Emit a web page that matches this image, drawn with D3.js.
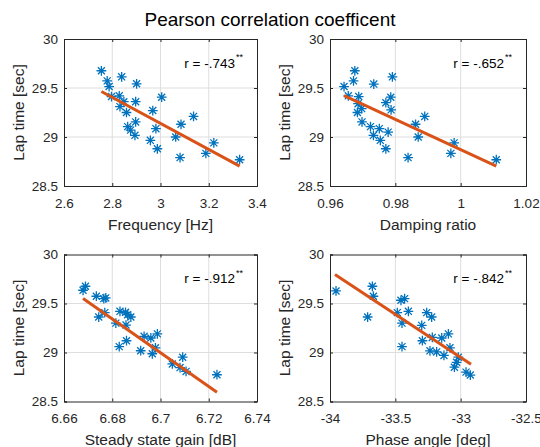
<!DOCTYPE html>
<html>
<head>
<meta charset="utf-8">
<script src="https://cdn.jsdelivr.net/npm/d3@7"></script>
<style>
  body { margin: 0; background: #fff; }
  svg { display: block; font-family: "Liberation Sans", Arial, sans-serif; }
</style>
</head>
<body>
<svg width="540" height="447"></svg>
<script>
// lap times and predictors
const freqX = [2.755, 2.779, 2.787, 2.839, 2.901, 3.005, 2.797, 2.829, 2.832, 2.848, 2.859, 2.897, 2.968, 2.897, 2.864, 2.876, 2.894, 2.981, 3.085, 3.137, 2.958, 2.987, 3.063, 3.081, 3.188, 3.221, 3.328];
const freqY = [29.676, 29.573, 29.515, 29.614, 29.543, 29.406, 29.413, 29.42, 29.31, 29.36, 29.25, 29.36, 29.27, 29.154, 29.106, 29.07, 29.017, 29.085, 29.13, 29.21, 28.966, 28.88, 29.0, 28.79, 28.833, 28.94, 28.768];
const freqLine = [[2.755, 29.464], [3.328, 28.703]];

const dampX = [0.9643, 0.9656, 0.9676, 0.9672, 0.9688, 0.9686, 0.9684, 0.9697, 0.9698, 0.9724, 0.9734, 0.9733, 0.9751, 0.9754, 0.9771, 0.9778, 0.9771, 0.9786, 0.9791, 0.9787, 0.9862, 0.987, 0.989, 0.9839, 0.997, 0.998, 1.0109];
const dampY = [29.515, 29.42, 29.676, 29.573, 29.413, 29.34, 29.25, 29.29, 29.154, 29.106, 29.54, 29.017, 29.085, 28.966, 28.88, 29.05, 29.35, 29.406, 29.614, 29.277, 29.13, 29.0, 29.21, 28.79, 28.833, 28.94, 28.768];
const dampLine = [[0.9643, 29.423], [1.0109, 28.703]];

const gainX = [6.6679, 6.6689, 6.6734, 6.6765, 6.6773, 6.6744, 6.6769, 6.6815, 6.6832, 6.6855, 6.6864, 6.6877, 6.6857, 6.6829, 6.6859, 6.6918, 6.6932, 6.696, 6.6966, 6.6979, 6.6987, 6.7049, 6.7092, 6.7081, 6.7106, 6.7234];
const gainY = [29.635, 29.676, 29.574, 29.55, 29.557, 29.362, 29.407, 29.30, 29.42, 29.41, 29.386, 29.362, 29.28, 29.06, 29.12, 29.018, 29.165, 29.148, 28.987, 29.048, 29.19, 28.883, 28.952, 28.846, 28.807, 28.773];
const gainLine = [[6.6679, 29.55], [6.7234, 28.595]];

const phaseX = [-33.954, -33.712, -33.676, -33.668, -33.485, -33.457, -33.429, -33.449, -33.449, -33.40, -33.298, -33.260, -33.222, -33.293, -33.217, -33.145, -33.094, -33.082, -33.235, -33.184, -33.128, -33.018, -33.031, -33.048, -32.959, -32.926];
const phaseY = [29.628, 29.362, 29.676, 29.574, 29.407, 29.533, 29.55, 29.30, 29.06, 29.42, 29.277, 29.407, 29.362, 29.12, 29.154, 29.148, 29.19, 29.048, 29.017, 29.006, 28.97, 28.952, 28.90, 28.85, 28.80, 28.77];
const phaseLine = [[-33.962, 29.795], [-32.921, 28.88]];

const lapTicks = [28.5, 29, 29.5, 30];
const freqTicks = [2.6, 2.8, 3, 3.2, 3.4];
const dampTicks = [0.96, 0.98, 1, 1.02];
const gainTicks = [6.66, 6.68, 6.7, 6.72, 6.74];
const phaseTicks = [-34, -33.5, -33, -32.5];

const xLabels = ["Frequency [Hz]", "Damping ratio", "Steady state gain [dB]", "Phase angle [deg]"];
const rLabels = ["r = -.743", "r = -.652", "r = -.912", "r = -.842"];

const panels = [
  { x: freqX, y: freqY, line: freqLine, ticks: freqTicks, dom: [2.6, 3.4], left: 64, top: 39, w: 193 },
  { x: dampX, y: dampY, line: dampLine, ticks: dampTicks, dom: [0.96, 1.02], left: 330, top: 39, w: 196 },
  { x: gainX, y: gainY, line: gainLine, ticks: gainTicks, dom: [6.66, 6.74], left: 64, top: 254.5, w: 193 },
  { x: phaseX, y: phaseY, line: phaseLine, ticks: phaseTicks, dom: [-34, -32.5], left: 330, top: 254.5, w: 196 }
];

const svg = d3.select("svg");
const H = 147;
const axisCol = "#262626";
const fmt = d => String(d);   // plain hyphen minus like matlab

svg.append("text")
  .attr("x", 270).attr("y", 26)
  .attr("text-anchor", "middle")
  .attr("font-size", 19)
  .attr("fill", "#000")
  .text("Pearson correlation coefficent");

// matlab style '*' marker: plus and cross together
const asterisk = {
  draw(ctx, size) {
    const r = Math.sqrt(size) / 2;
    const d = r * 0.72;
    ctx.moveTo(-r, 0); ctx.lineTo(r, 0);
    ctx.moveTo(0, -r); ctx.lineTo(0, r);
    ctx.moveTo(-d, -d); ctx.lineTo(d, d);
    ctx.moveTo(-d, d); ctx.lineTo(d, -d);
  }
};
const marker = d3.symbol().type(asterisk).size(95);

panels.forEach((p, i) => {
  const g = svg.append("g").attr("transform", `translate(${p.left},${p.top})`);
  const x = d3.scaleLinear().domain(p.dom).range([0, p.w]);
  const y = d3.scaleLinear().domain([28.5, 30]).range([H, 0]);

  // grid
  g.append("g").selectAll("line").data(p.ticks.slice(1, -1)).join("line")
    .attr("x1", d => x(d)).attr("x2", d => x(d))
    .attr("y1", 0).attr("y2", H)
    .attr("stroke", "#dedede").attr("stroke-width", 1);
  g.append("g").selectAll("line").data(lapTicks.slice(1, -1)).join("line")
    .attr("y1", d => y(d)).attr("y2", d => y(d))
    .attr("x1", 0).attr("x2", p.w)
    .attr("stroke", "#dedede").attr("stroke-width", 1);

  // axes
  g.append("g").attr("transform", `translate(0,${H})`)
    .call(d3.axisBottom(x).tickValues(p.ticks).tickSize(-3).tickPadding(12).tickFormat(fmt));
  g.append("g")
    .call(d3.axisLeft(y).tickValues(lapTicks).tickSize(-3).tickPadding(6).tickFormat(fmt));
  g.append("g").call(d3.axisTop(x).tickValues(p.ticks).tickSize(-3).tickFormat(""));
  g.append("g").attr("transform", `translate(${p.w},0)`)
    .call(d3.axisRight(y).tickValues(lapTicks).tickSize(-3).tickFormat(""));
  g.selectAll(".domain").attr("stroke", axisCol);
  g.selectAll(".tick line").attr("stroke", axisCol);
  g.selectAll(".tick text").attr("font-size", 13.5).attr("fill", "#262626")
    .attr("font-family", "'Liberation Sans', Arial, sans-serif");

  // points
  g.append("g").selectAll("path").data(p.x.map((v, k) => [v, p.y[k]])).join("path")
    .attr("transform", d => `translate(${x(d[0])},${y(d[1])})`)
    .attr("d", marker)
    .attr("fill", "none")
    .attr("stroke", "#0072BD")
    .attr("stroke-width", 1.3);

  // fit line
  g.append("path")
    .datum(p.line)
    .attr("d", d3.line().x(d => x(d[0])).y(d => y(d[1])))
    .attr("stroke", "#D95319")
    .attr("stroke-width", 3)
    .attr("fill", "none");

  // r annotation
  g.append("text")
    .attr("x", p.w - 22).attr("y", 28.5)
    .attr("text-anchor", "end")
    .attr("font-size", 13.5)
    .attr("fill", "#000")
    .text(rLabels[i]);
  g.append("text")
    .attr("x", p.w - 21).attr("y", 21)
    .attr("font-size", 9)
    .attr("fill", "#000")
    .text("**");

  // labels
  g.append("text")
    .attr("x", p.w / 2).attr("y", H + 43.5)
    .attr("text-anchor", "middle")
    .attr("font-size", 15.5)
    .attr("fill", "#262626")
    .text(xLabels[i]);
  g.append("text")
    .attr("transform", `translate(-40,${H / 2}) rotate(-90)`)
    .attr("text-anchor", "middle")
    .attr("font-size", 15.5)
    .attr("fill", "#262626")
    .text("Lap time [sec]");
});
</script>
</body>
</html>
